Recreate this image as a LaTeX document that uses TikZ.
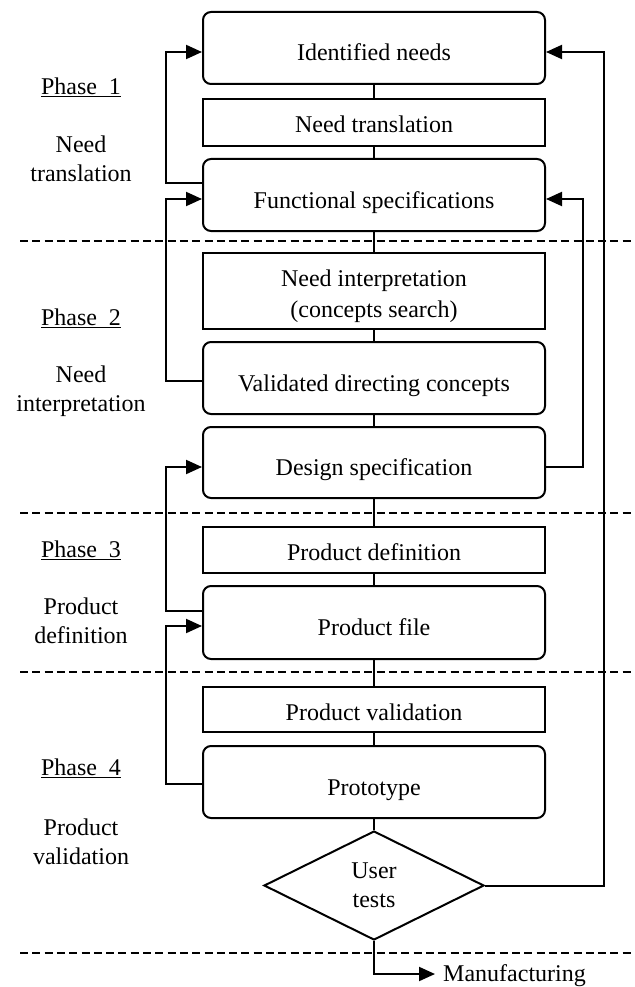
\documentclass[tikz,border=0pt]{standalone}
\usepackage{fontspec}
\setmainfont{Liberation Serif}
\usetikzlibrary{arrows.meta,shapes.geometric}
\begin{document}
\begin{tikzpicture}[x=1pt,y=-1pt,
  every node/.style={font=\fontsize{24}{28.8}\selectfont},
  base/.style={draw, line width=2pt, minimum width=342pt, inner sep=0pt},
  rbox/.style={base, rounded corners=8pt, text height=30pt, text depth=4pt},
  sbox/.style={base, text height=25pt, text depth=4pt},
  conn/.style={line width=2pt},
  arr/.style={conn, -{Triangle[length=16pt,width=14pt]}},
  dline/.style={line width=2pt, dash pattern=on 8pt off 4.3pt},
  lbl/.style={align=center, inner sep=0pt}
]
\useasboundingbox (0,0) rectangle (634,987);

% phase separators
\draw[dline] (20,241) -- (634,241);
\draw[dline] (20,513) -- (634,513);
\draw[dline] (20,672) -- (634,672);
\draw[dline] (20,953) -- (634,953);

% main column
\node[rbox, minimum height=72pt] (idn) at (374,48) {Identified needs};
\node[sbox, minimum height=47pt] (nt) at (374,122.5) {Need translation};
\node[rbox, minimum height=72pt] (fs) at (374,195) {Functional specifications};
\node[base, minimum height=76pt, align=center] (ni) at (374,291) {\rule{0pt}{27pt}Need interpretation\\[3pt](concepts search)};
\node[rbox, minimum height=72pt] (vdc) at (374,378) {Validated directing concepts};
\node[rbox, minimum height=71pt] (ds) at (374,462.5) {Design specification};
\node[sbox, minimum height=46pt] (pd) at (374,550) {Product definition};
\node[rbox, minimum height=73pt] (pf) at (374,622.5) {Product file};
\node[sbox, minimum height=45pt] (pv) at (374,709.5) {Product validation};
\node[rbox, minimum height=72pt] (pt) at (374,782) {Prototype};
\node[draw, diamond, aspect=2, line width=2pt, inner sep=0pt,
      minimum width=220pt, minimum height=109pt, align=center] (ut) at (374,885.5) {User\\tests};
\node[anchor=west, inner xsep=8pt, inner ysep=0pt, text height=14pt, text depth=0pt] (mf) at (435,974) {Manufacturing};

% phase labels
\node[lbl] (p1) at (81,87) {\underline{Phase~~1}};
\node[lbl] (n1) at (81,159) {Need\\translation};
\node[lbl] (p2) at (81,318) {\underline{Phase~~2}};
\node[lbl] (n2) at (81,391) {Need\\interpretation};
\node[lbl] (p3) at (81,550) {\underline{Phase~~3}};
\node[lbl] (n3) at (81,621) {Product\\definition};
\node[lbl] (p4) at (81,768) {\underline{Phase~~4}};
\node[lbl] (n4) at (81,842) {Product\\validation};

% vertical flow
\draw[conn] (idn) -- (nt);
\draw[conn] (nt) -- (fs);
\draw[conn] (fs) -- (ni);
\draw[conn] (ni) -- (vdc);
\draw[conn] (vdc) -- (ds);
\draw[conn] (ds) -- (pd);
\draw[conn] (pd) -- (pf);
\draw[conn] (pf) -- (pv);
\draw[conn] (pv) -- (pt);
\draw[conn] (pt) -- (ut);
\draw[arr] (ut.south) |- (mf.west);

% feedback loops, left
\draw[arr] ([yshift=12pt]fs.west) -- ++(-36,0) |- ([yshift=-4pt]idn.west);
\draw[arr] ([yshift=-3pt]vdc.west) -- ++(-36,0) |- ([yshift=-4pt]fs.west);
\draw[arr] ([yshift=11.5pt]pf.west) -- ++(-36,0) |- ([yshift=-4.5pt]ds.west);
\draw[arr] ([yshift=-2pt]pt.west) -- ++(-36,0) |- ([yshift=-3.5pt]pf.west);

% feedback loops, right
\draw[arr] ([yshift=-4.5pt]ds.east) -- ++(37,0) |- ([yshift=-4pt]fs.east);
\draw[arr] (ut.east) -- ++(119,0) |- ([yshift=-4pt]idn.east);
\end{tikzpicture}
\end{document}
